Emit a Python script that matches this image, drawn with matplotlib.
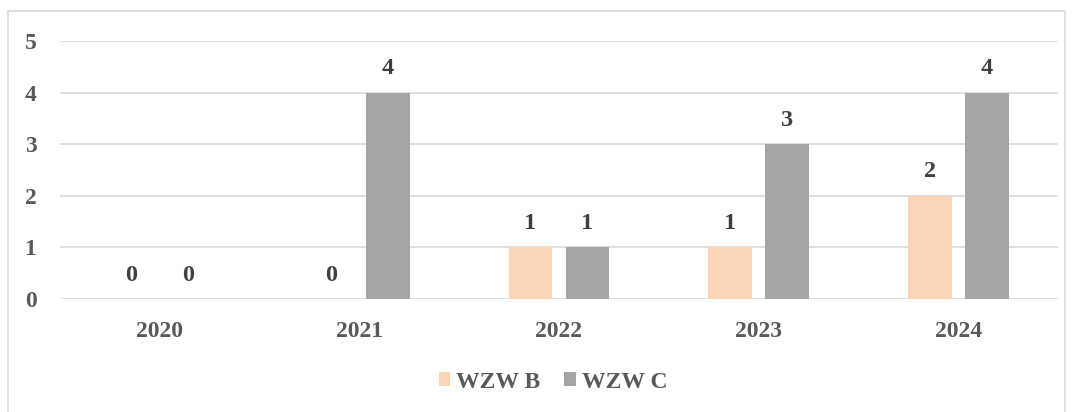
import matplotlib
matplotlib.use('Agg')
import matplotlib.pyplot as plt
import numpy as np
from matplotlib.patches import Rectangle

plt.rcParams.update({
    'font.family': ['Liberation Serif', 'DejaVu Serif'],
    'font.weight': 'bold',
    'font.size': 17,
})

years = ['2020', '2021', '2022', '2023', '2024']
wzw_b = [0, 0, 1, 1, 2]
wzw_c = [0, 4, 1, 3, 4]

col_b = '#FBD5B5'
col_c = '#A5A5A5'
txt = '#595959'

fig = plt.figure(figsize=(10.73, 4.12), dpi=100)
ax = fig.add_axes([60 / 1073, 1 - 299 / 412, 998 / 1073, 258 / 412])

fig.patches.append(Rectangle((8 / 1073, -0.01), 1057 / 1073, 1 - 11 / 412 + 0.01,
                             transform=fig.transFigure, fill=False,
                             edgecolor='#D9D9D9', linewidth=1.2))

x = np.arange(len(years))
w = 0.22
off = 0.143
bb = ax.bar(x - off, wzw_b, w, color=col_b, label='WZW B', zorder=3)
bc = ax.bar(x + off, wzw_c, w, color=col_c, label='WZW C', zorder=3)

for bars, vals in ((bb, wzw_b), (bc, wzw_c)):
    for r, v in zip(bars, vals):
        ax.text(r.get_x() + r.get_width() / 2, v + 0.26, str(v),
                ha='center', va='bottom', fontsize=17.5, fontweight='bold',
                color='#404040')

ax.set_xlim(-0.5, len(years) - 0.5)
ax.set_ylim(0, 5)
ax.set_yticks(range(6))
ax.set_xticks(x)
ax.set_xticklabels(years)
ax.yaxis.grid(True, color='#D9D9D9', linewidth=1.2, zorder=0)
for s in ax.spines.values():
    s.set_visible(False)
ax.tick_params(axis='both', length=0, colors=txt, labelsize=17)
ax.tick_params(axis='x', pad=16)
ax.tick_params(axis='y', pad=17)
for lab in ax.get_xticklabels() + ax.get_yticklabels():
    lab.set_fontweight('bold')

fig.legend(handles=[bb, bc], loc='center', bbox_to_anchor=(553 / 1073, 1 - 382 / 412),
           ncol=2, frameon=False, fontsize=17, handlelength=0.5, handleheight=0.5,
           handletextpad=0.25, columnspacing=1.0, labelcolor=txt)

fig.savefig('out.png', dpi=100)
